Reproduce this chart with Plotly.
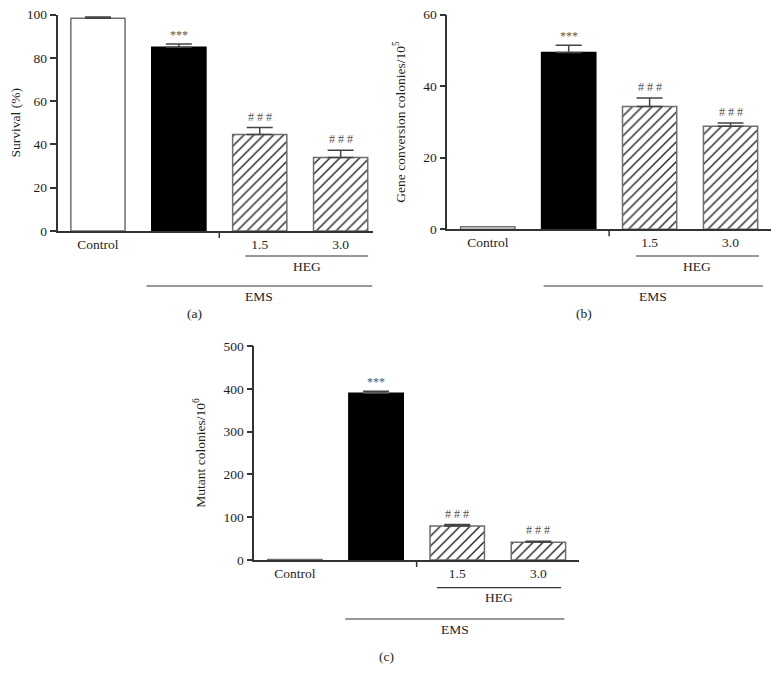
import plotly.graph_objects as go

# ---- data ----
categories = ["Control", "EMS", "1.5", "3.0"]
tick_text = ["Control", "1.5", "3.0"]
survival_mean = [98.3, 84.9, 44.6, 34.0]
survival_err = [0.5, 1.5, 3.2, 3.3]
gene_conv_mean = [0.7, 49.4, 34.3, 28.8]
gene_conv_err = [0.0, 2.0, 2.4, 0.9]
mutant_mean = [1.0, 389.5, 79.4, 41.3]
mutant_err = [0.0, 5.0, 3.5, 2.5]
signif = ["", "***", "# # #", "# # #"]

W, H = 780, 682
PAGE_OFF = 8  # page body margin offset of the figure in the browser
FONT = "Liberation Serif"
AX = "#333333"
EDGE = "#6e6e6e"
TXT = "#1e1e1e"

def px_x(p):
    return (p - PAGE_OFF) / W

def px_y(p):
    return 1 - (p - PAGE_OFF) / H

fig = go.Figure()

panels = [
    dict(means=survival_mean, errs=survival_err, xd=(57.5, 373), yd=(231, 14.5),
         xr=[-0.5, 3.4], yr=[0, 100], dtick=20, title="Survival (%)",
         heg=(1.82, 3.34), ems=(0.60, 3.39), ybase=231, heg_y=256, ems_y=286,
         lab="(a)", lab_xy=(194, 313)),
    dict(means=gene_conv_mean, errs=gene_conv_err, xd=(447.3, 771), yd=(229.3, 14.5),
         xr=[-0.5, 3.5], yr=[0, 60], dtick=20, title="Gene conversion colonies/10<sup>5</sup>",
         heg=(1.83, 3.35), ems=(0.69, 3.40), ybase=229.3, heg_y=256, ems_y=286,
         lab="(b)", lab_xy=(584, 313)),
    dict(means=mutant_mean, errs=mutant_err, xd=(254.3, 579), yd=(560, 346),
         xr=[-0.5, 3.5], yr=[0, 500], dtick=100, title="Mutant colonies/10<sup>6</sup>",
         heg=(1.75, 3.28), ems=(0.62, 3.32), ybase=560, heg_y=587.7, ems_y=619,
         lab="(c)", lab_xy=(386.7, 656)),
]

fills = ["white", "black", "white", "white"]
shapes = []
annotations = []
layout_axes = {}

for i, p in enumerate(panels, start=1):
    xa = "x" if i == 1 else f"x{i}"
    ya = "y" if i == 1 else f"y{i}"
    xkey = "xaxis" if i == 1 else f"xaxis{i}"
    ykey = "yaxis" if i == 1 else f"yaxis{i}"
    xs = list(range(len(categories)))
    for j in range(len(categories)):
        hatched = j >= 2
        marker = dict(color=fills[j], line=dict(color=EDGE if j != 1 else "black", width=1.5))
        if hatched:
            marker["pattern"] = dict(shape="/", size=7, solidity=0.2, fgcolor="#222222",
                                     bgcolor="white", fillmode="replace")
        fig.add_trace(go.Bar(
            x=[xs[j]], y=[p["means"][j]], width=0.67, marker=marker,
            error_y=dict(type="data", symmetric=False, array=[p["errs"][j]], arrayminus=[0],
                         color="#444444", thickness=1.5, width=13,
                         visible=p["errs"][j] > 0),
            xaxis=xa, yaxis=ya, showlegend=False, name=categories[j]))
        if signif[j]:
            annotations.append(dict(
                x=xs[j], y=p["means"][j] + p["errs"][j], xref=xa, yref=ya,
                text=signif[j], showarrow=False, yanchor="bottom",
                yshift=0 if j == 1 else 2,
                font=dict(family=FONT, size=12, color="#555555")))
    layout_axes[xkey] = dict(
        domain=[px_x(p["xd"][0]), px_x(p["xd"][1])], range=p["xr"], anchor=ya,
        automargin=False, ticklabeloverflow="allow",
        tickvals=[0, 2, 3], ticktext=tick_text, ticks="", showgrid=False, zeroline=False,
        showline=True, linecolor=AX, linewidth=1.5,
        tickfont=dict(family=FONT, size=13.5, color=TXT))
    layout_axes[ykey] = dict(
        domain=[px_y(p["yd"][0]), px_y(p["yd"][1])], range=p["yr"], anchor=xa,
        automargin=False, ticklabeloverflow="allow",
        dtick=p["dtick"], tick0=0, ticks="outside", ticklen=6, tickwidth=1.5, tickcolor=AX,
        showgrid=False, zeroline=False, showline=True, linecolor=AX, linewidth=1.5,
        tickfont=dict(family=FONT, size=13.5, color=TXT),
        title=dict(text=p["title"], font=dict(family=FONT, size=13.5, color=TXT)))
    # separator tick at 1.5
    shapes.append(dict(type="line", xref=xa, yref="paper", x0=1.5, x1=1.5,
                       y0=px_y(p["ybase"]), y1=px_y(p["ybase"] + 7),
                       line=dict(color=AX, width=1.5)))
    # HEG / EMS bracket lines
    shapes.append(dict(type="line", xref=xa, yref="paper", x0=p["heg"][0], x1=p["heg"][1],
                       y0=px_y(p["heg_y"]), y1=px_y(p["heg_y"]),
                       line=dict(color=AX, width=1.2)))
    shapes.append(dict(type="line", xref=xa, yref="paper", x0=p["ems"][0], x1=p["ems"][1],
                       y0=px_y(p["ems_y"]), y1=px_y(p["ems_y"]),
                       line=dict(color=AX, width=1.2)))
    annotations.append(dict(x=sum(p["heg"]) / 2, y=px_y(p["heg_y"] + 10), xref=xa, yref="paper",
                            text="HEG", showarrow=False, yanchor="middle",
                            font=dict(family=FONT, size=13.5, color=TXT)))
    annotations.append(dict(x=sum(p["ems"]) / 2, y=px_y(p["ems_y"] + 10.7), xref=xa, yref="paper",
                            text="EMS", showarrow=False, yanchor="middle",
                            font=dict(family=FONT, size=13.5, color=TXT)))
    annotations.append(dict(x=px_x(p["lab_xy"][0]), y=px_y(p["lab_xy"][1]), xref="paper",
                            yref="paper", text=p["lab"], showarrow=False,
                            xanchor="center", yanchor="middle",
                            font=dict(family=FONT, size=13.5, color=TXT)))

fig.update_layout(
    width=W, height=H, margin=dict(l=0, r=0, t=0, b=0, autoexpand=False),
    paper_bgcolor="white", plot_bgcolor="white",
    barmode="overlay", shapes=shapes, annotations=annotations,
    font=dict(family=FONT), **layout_axes)

fig.write_html("out.html")
